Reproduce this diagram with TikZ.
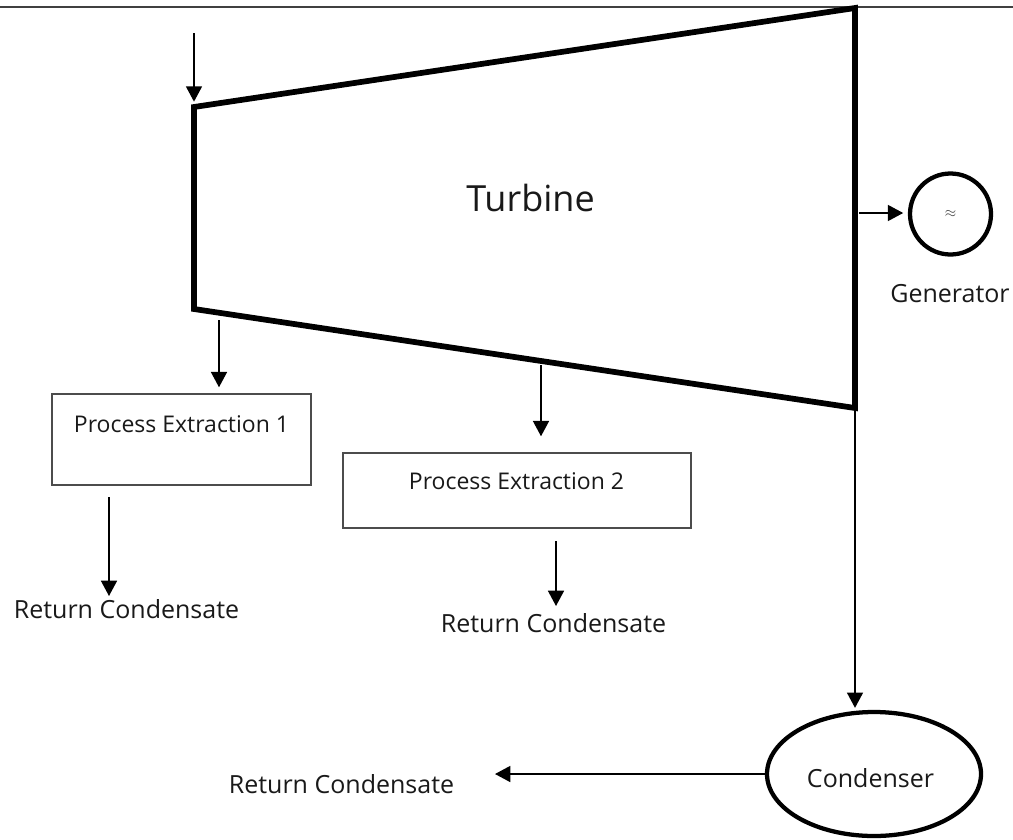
\documentclass[tikz,border=0pt]{standalone}
\usepackage{fontspec}
\setmainfont{Open Sans}
\usetikzlibrary{arrows.meta,shapes.geometric}
\begin{document}
\begin{tikzpicture}[x=0.75pt,y=-0.75pt,
  arr/.style={draw=black, line width=1.2pt, -{Triangle[width=12pt,length=11.5pt]}},
  box/.style={draw=black!70, line width=1.1pt, rectangle, inner sep=0pt},
  lbl/.style={font=\fontsize{18.75pt}{22pt}\selectfont, inner sep=0pt, anchor=base, text=black!90},
  boxtxt/.style={font=\fontsize{17.25pt}{20pt}\selectfont, inner sep=0pt, anchor=base, text=black!90},
]
\useasboundingbox (0,0) rectangle (1013,839);
% top rule
\coordinate (rl) at (0,7);
\coordinate (rr) at (1013,7);
\draw[black!75, line width=1.1pt] (rl) -- (rr);
% turbine
\coordinate (ttl) at (194,107);
\coordinate (ttr) at (855,8);
\coordinate (tbr) at (855,408);
\coordinate (tbl) at (194,309);
\draw[line width=4.3pt, line join=miter] (ttl) -- (ttr) -- (tbr) -- (tbl) -- cycle;
\node[font=\fontsize{27pt}{32pt}\selectfont, inner sep=0pt, anchor=base, text=black!90] (turb) at (530.5,211) {Turbine};
% inlet
\coordinate (inl) at (194,33);
\draw[arr, shorten >=4pt] (inl) -- (ttl);
% generator
\node[circle, draw, line width=3.2pt, minimum size=60.75pt, inner sep=0pt] (gen) at (950.5,214) {};
\node[inner sep=0pt, font=\fontsize{11pt}{12pt}\selectfont, text=black!75] (genmark) at (gen.center) {$\approx$};
\node[lbl] (genlbl) at (950,302) {Generator};
\coordinate (g0) at (859,213);
\draw[arr, shorten >=3.5pt] (g0) -- (g0 -| gen.west);
% extraction 1
\node[box, minimum width=194.25pt, minimum height=68.25pt] (pe1) at (181.5,439.5) {};
\node[boxtxt] (pe1t) at (181.5,432) {Process Extraction 1};
\coordinate (x1) at (219,320);
\draw[arr, shorten >=4.5pt] (x1) -- (x1 |- pe1.north);
\coordinate (r1s) at (109,497);
\coordinate (r1e) at (109,596);
\draw[arr] (r1s) -- (r1e);
\node[lbl] (rc1) at (126.5,618) {Return Condensate};
% extraction 2
\node[box, minimum width=261pt, minimum height=56.25pt] (pe2) at (517,490.5) {};
\node[boxtxt] (pe2t) at (516.5,489) {Process Extraction 2};
\coordinate (x2) at (541,365);
\draw[arr, shorten >=12pt] (x2) -- (x2 |- pe2.north);
\coordinate (r2s) at (556,541);
\coordinate (r2e) at (556,606);
\draw[arr] (r2s) -- (r2e);
\node[lbl] (rc2) at (553.5,632) {Return Condensate};
% condenser
\node[ellipse, draw, line width=3.2pt, minimum width=160.5pt, minimum height=93pt, inner sep=0pt] (cond) at (874,774) {};
\node[lbl] (condt) at (870.5,787) {Condenser};
\draw[arr, shorten >=1.5pt] (tbr) -- (tbr |- cond.north);
\coordinate (rcin) at (495,774);
\draw[arr] (cond.west) -- (rcin);
\node[lbl] (rc3) at (341.5,793) {Return Condensate};
\end{tikzpicture}
\end{document}
